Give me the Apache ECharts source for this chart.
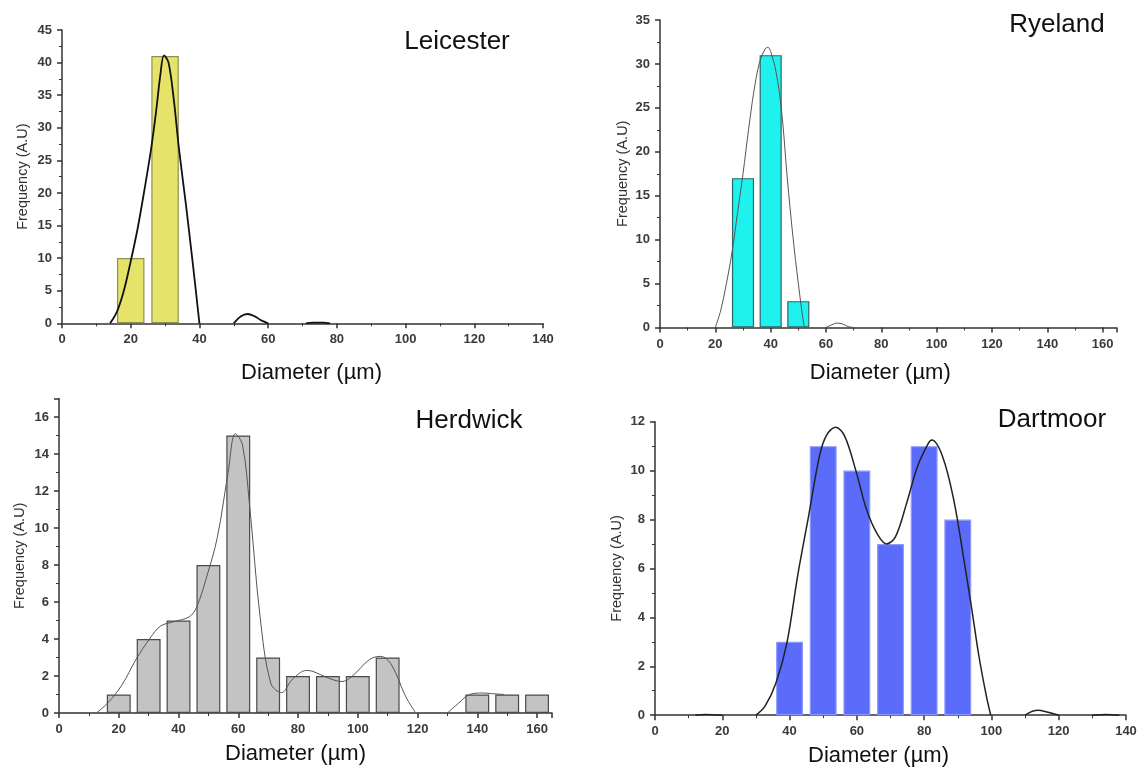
<!DOCTYPE html>
<html><head><meta charset="utf-8">
<script src="https://cdn.jsdelivr.net/npm/echarts@6/dist/echarts.min.js"></script>
<style>html,body{margin:0;padding:0;background:#fff}#c{width:1138px;height:771px}</style>
</head><body><div id="c"></div>
<script>
const FONT = "'Liberation Sans', Arial, sans-serif";

// ---- Leicester ----
const leicesterBins = [20, 30];
const leicesterCounts = [10, 41];
const leicesterCurve = [
  [[14,0],[16,1.8],[18,5],[20,9.5],[22,14.5],[24,20.5],[26,27],[27.5,33],[28.6,38],[29.7,41.1],[31,40],[32.5,34.5],[34,27],[36,18.5],[38,9.5],[40,0]],
  [[50,0],[52,1.05],[54,1.43],[56,1.1],[58,0.45],[60,0]],
  [[71,0],[73,0.1],[76,0.1],[78,0]]
];
// ---- Ryeland ----
const ryelandBins = [30, 40, 50];
const ryelandCounts = [17, 31, 3];
const ryelandCurve = [
  [[20,0],[22,2],[24,5],[26,8.5],[28,13],[30,17.5],[32,22.5],[34,27],[36,30.2],[38,31.7],[39,31.9],[40,31.4],[42,29],[44,24.5],[46,17],[48,10.5],[50,5],[52,0.3],[52.5,0]],
  [[60,0],[62,0.3],[64,0.5],[66,0.4],[68,0.1],[70,0]]
];
// ---- Herdwick ----
const herdwickBins = [20, 30, 40, 50, 60, 70, 80, 90, 100, 110, 140, 150, 160];
const herdwickCounts = [1, 4, 5, 8, 15, 3, 2, 2, 2, 3, 1, 1, 1];
const herdwickCurve = [
  [[12.5,0],[16.3,0.54],[21,1.5],[25.8,2.9],[30.5,4.05],[34,4.7],[38.8,4.95],[43.6,5.2],[46,5.7],[49.5,7.4],[53,9.5],[56.6,13],[59,15.1],[61.4,14.5],[63.8,11.2],[67.3,5.2],[70.9,1.6],[74.5,1.1],[78,1.8],[82.8,2.3],[85,2.25],[90,1.9],[94.7,1.7],[98.2,2.0],[104,2.9],[107.7,3.06],[111.3,2.6],[116,0.9],[119.4,0]],
  [[130,0],[133.8,0.54],[137.4,1.0],[142,1.08],[144.5,1.05],[149,1.0]]
];
// ---- Dartmoor ----
const dartmoorBins = [40, 50, 60, 70, 80, 90];
const dartmoorCounts = [3, 11, 10, 7, 11, 8];
const dartmoorCurve = [
  [[12,0],[15,0.03],[20,0]],
  [[30,0],[32.7,0.37],[35.9,1.3],[39.2,2.95],[42.4,5.7],[45.6,8.1],[48.9,10.6],[51,11.45],[53.7,11.77],[56.4,11.4],[59.7,10.0],[62.9,8.4],[66.1,7.4],[68.8,7.0],[71.5,7.3],[74.8,8.67],[78,10.16],[81.2,11.1],[82.3,11.25],[85.5,10.57],[88.8,8.8],[92,6.2],[94.2,4.3],[96.3,2.4],[98.5,0.78],[99.8,0]],
  [[110,0],[112,0.15],[114,0.2],[116,0.15],[120,0]],
  [[130,0],[134,0.03],[138,0]]
];

const panelNames = ['Leicester', 'Ryeland', 'Herdwick', 'Dartmoor'];
const xTitle = 'Diameter (µm)';
const yTitle = 'Frequency (A.U)';

const panels = [
  {bins: leicesterBins, counts: leicesterCounts, curve: leicesterCurve,
   grid: {left: 62, top: 30, width: 481, height: 293.3},
   x: {max: 140, interval: 20}, y: {max: 45, interval: 5},
   xNameGap: 39, xShift: 9, yNameGap: 32,
   fill: '#e6e36a', border: '#8f8f55', lineColor: '#111', lineWidth: 1.8,
   title: [457, 42]},
  {bins: ryelandBins, counts: ryelandCounts, curve: ryelandCurve,
   grid: {left: 660, top: 20, width: 456.5, height: 307.5},
   x: {max: 165, interval: 20}, y: {max: 35, interval: 5},
   xNameGap: 34, xShift: -8, yNameGap: 30,
   fill: '#1ff1ef', border: '#2f6668', lineColor: '#555', lineWidth: 1,
   title: [1057, 25]},
  {bins: herdwickBins, counts: herdwickCounts, curve: herdwickCurve,
   grid: {left: 59, top: 398.5, width: 493, height: 314.5},
   x: {max: 165, interval: 20}, y: {max: 17, interval: 2},
   xNameGap: 30, xShift: -10, yNameGap: 32,
   fill: '#c3c3c3', border: '#4a4a4a', lineColor: '#555', lineWidth: 1,
   title: [469, 421]},
  {bins: dartmoorBins, counts: dartmoorCounts, curve: dartmoorCurve,
   grid: {left: 655, top: 421.7, width: 471, height: 293.5},
   x: {max: 140, interval: 20}, y: {max: 12, interval: 2},
   xNameGap: 30, xShift: -12, yNameGap: 31,
   fill: '#5b6bfa', border: '#8c98ff', lineColor: '#222', lineWidth: 1.5,
   title: [1052, 420]}
];

const axisCommon = {
  axisLine: {show: true, onZero: false, lineStyle: {color: '#333', width: 1.5}},
  axisTick: {show: true, inside: false, length: 5, lineStyle: {color: '#333', width: 1.5}},
  minorTick: {show: true, splitNumber: 2, length: 3, lineStyle: {color: '#333', width: 1}},
  splitLine: {show: false},
  minorSplitLine: {show: false}
};

const option = {
  backgroundColor: '#fff',
  animation: false,
  grid: [], xAxis: [], yAxis: [], series: [], graphic: []
};

panels.forEach((p, i) => {
  option.grid.push(Object.assign({outerBoundsMode: 'none', containLabel: false}, p.grid));
  const xi = p.x.interval, yi = p.y.interval;
  option.xAxis.push(Object.assign({}, axisCommon, {
    type: 'value', gridIndex: i, min: 0, max: p.x.max, interval: xi,
    axisLabel: {color: '#3a3a3a', fontSize: 13, fontWeight: 'bold', margin: 10, fontFamily: FONT,
      formatter: v => (v % xi === 0 ? String(v) : '')},
    name: xTitle, nameLocation: 'middle', nameGap: p.xNameGap,
    nameTextStyle: {fontSize: 22, color: '#111', fontFamily: FONT,
      padding: p.xShift >= 0 ? [0, 0, 0, 2 * p.xShift] : [0, -2 * p.xShift, 0, 0]}
  }));
  option.yAxis.push(Object.assign({}, axisCommon, {
    type: 'value', gridIndex: i, min: 0, max: p.y.max, interval: yi,
    axisLabel: {color: '#3a3a3a', fontSize: 13, fontWeight: 'bold', margin: 10, fontFamily: FONT,
      formatter: v => (v % yi === 0 ? String(v) : '')},
    name: yTitle, nameLocation: 'middle', nameGap: p.yNameGap,
    nameTextStyle: {fontSize: 14.5, color: '#333', fontFamily: FONT}
  }));
  option.series.push({
    type: 'bar', xAxisIndex: i, yAxisIndex: i, barWidth: '80%',
    data: p.bins.map((b, k) => [b, p.counts[k]]),
    itemStyle: {color: p.fill, borderColor: p.border, borderWidth: 1.2},
    z: 2
  });
  p.curve.forEach(seg => {
    option.series.push({
      type: 'line', xAxisIndex: i, yAxisIndex: i, data: seg,
      smooth: 0.35, symbol: 'none', clip: true,
      lineStyle: {color: p.lineColor, width: p.lineWidth}, z: 3
    });
  });
  option.graphic.push({
    type: 'text', x: p.title[0], y: p.title[1],
    style: {text: panelNames[i], fill: '#111', font: '26px ' + FONT,
      textAlign: 'center', textVerticalAlign: 'middle', align: 'center', verticalAlign: 'middle'}
  });
});

const chart = echarts.init(document.getElementById('c'), null, {renderer: 'canvas'});
chart.setOption(option);
</script>
</body></html>
